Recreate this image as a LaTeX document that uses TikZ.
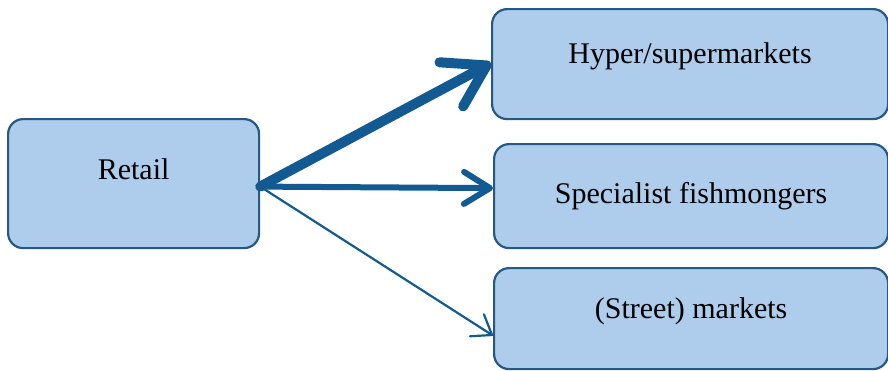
\documentclass[tikz,border=0pt]{standalone}
\usepackage{fontspec}
\setmainfont{Liberation Serif}
\usetikzlibrary{arrows.meta}
\definecolor{boxfill}{RGB}{174,204,236}
\definecolor{boxline}{RGB}{38,88,132}
\definecolor{arrowblue}{RGB}{20,90,146}
\begin{document}
\begin{tikzpicture}[x=1pt,y=-1pt,
    channel/.style={draw=boxline,fill=boxfill,line width=2.2pt,rounded corners=15pt,inner sep=0pt,anchor=north west,font=\fontsize{30}{36}\selectfont},
    flow/.style={draw=arrowblue,line cap=round,line join=round}]
  \useasboundingbox (0,0) rectangle (888,370);
  \node[channel,minimum width=251pt,text height=60pt,text depth=69pt] (retail) at (7,118) {Retail};
  \node[channel,minimum width=396pt,text height=54pt,text depth=56pt] (hyper) at (491,8) {Hyper/supermarkets};
  \node[channel,minimum width=394pt,text height=59pt,text depth=45pt] (spec) at (493,143) {Specialist fishmongers};
  \node[channel,minimum width=394pt,text height=50pt,text depth=51pt] (street) at (493,267) {(Street) markets};
  \draw[flow,line width=10pt,-{Straight Barb[length=40pt,width=50pt,round]}] ([yshift=-3pt]retail.east) -- ([yshift=1pt]hyper.west);
  \draw[flow,line width=6pt,-{Straight Barb[length=26pt,width=32pt,round]}] ([yshift=-3pt]retail.east) -- ([yshift=8pt]spec.west);
  \draw[flow,line width=2.2pt,-{Straight Barb[length=18pt,width=26pt,round]}] ([yshift=-3pt]retail.east) -- ([yshift=-17pt]street.west);
\end{tikzpicture}
\end{document}
